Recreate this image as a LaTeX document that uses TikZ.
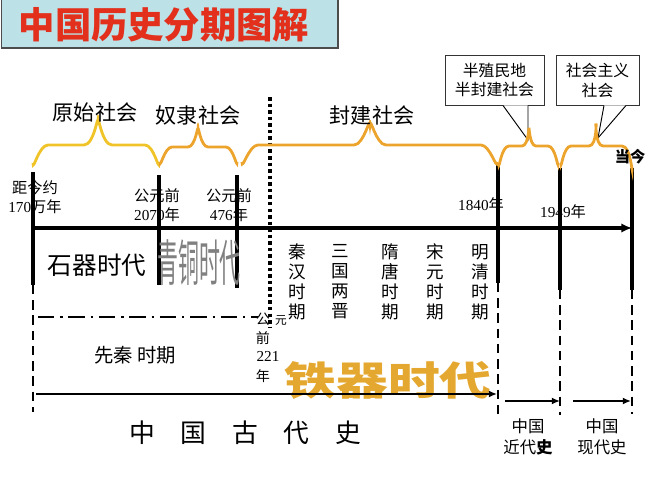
\documentclass[tikz,border=0pt]{standalone}
\usepackage{fontspec}
\setmainfont{Noto Sans CJK SC}
\newfontfamily\lat{Liberation Serif}
\usepackage{xcolor}
\usetikzlibrary{arrows.meta, positioning, calc}
\definecolor{titleblue}{RGB}{188,226,232}
\definecolor{titlered}{RGB}{226,48,28}
\definecolor{braceyellow}{RGB}{240,196,40}
\definecolor{braceorange}{RGB}{236,164,44}
\definecolor{irongold}{RGB}{228,168,48}

\begin{document}
\begin{tikzpicture}[
    x=0.03cm, y=-0.03cm,
    axis/.style={line width=3.2pt, -{Latex[length=9pt,width=8pt]}},
    tick/.style={line width=3pt},
    tickdash/.style={line width=2.4pt, dash pattern=on 8pt off 5pt},
    bracey/.style={draw=braceyellow, line width=2.4pt},
    braceo/.style={draw=braceorange, line width=2.4pt},
    society/.style={font=\fontsize{18}{20}\selectfont, inner sep=0pt},
    datelbl/.style={font=\fontsize{13}{16}\selectfont, align=center, inner sep=0pt},
    dynasty/.style={font=\fontsize{15}{17}\selectfont, align=center, inner sep=0pt},
    callout/.style={draw=black!80, fill=white, line width=0.8pt, align=center, font=\fontsize{13.5}{17}\selectfont, inner sep=0pt},
    span/.style={line width=2pt, -{Latex[length=7pt,width=6pt]}},
    histlbl/.style={font=\fontsize{14}{18}\selectfont, align=center, inner sep=0pt}
]
\useasboundingbox (0,0) rectangle (667,500);

% title
\node[draw=black!70, line width=1.5pt, fill=titleblue, minimum width=10.1cm, minimum height=1.55cm, anchor=south east] (titlebox) at (339,49) {};
\node[text=titlered, font=\bfseries\fontsize{31}{34}\selectfont, inner sep=0pt] (title) at (164,25) {中国历史分期图解};

% time points
\coordinate (t0) at (33,228);
\coordinate (t1) at (159,228);
\coordinate (t2) at (237,228);
\coordinate (t3) at (498,228);
\coordinate (t4) at (560,228);
\coordinate (t5) at (632,228);

\draw[axis] (t0) -- (t5);
\draw[tick] ($(t0)+(0,-56)$) -- ($(t0)+(0,57)$);
\draw[tick] ($(t1)+(0,-53)$) -- ($(t1)+(0,57)$);
\draw[tick] ($(t2)+(0,-53)$) -- ($(t2)+(0,60)$);
\draw[tick] ($(t3)+(0,-65)$) -- ($(t3)+(0,55)$);
\draw[tick] ($(t4)+(0,-60)$) -- ($(t4)+(0,62)$);
\draw[tick] ($(t5)+(0,-60)$) -- ($(t5)+(0,62)$);
\draw[tickdash] ($(t0)+(0,57)$) -- ($(t0)+(0,184)$);
\draw[tickdash] ($(t3)+(0,55)$) -- ($(t3)+(0,186)$);
\draw[tickdash] ($(t4)+(0,62)$) -- ($(t4)+(0,187)$);
\draw[tickdash] ($(t5)+(0,62)$) -- ($(t5)+(0,186)$);
\coordinate (q0) at (270,97);
\coordinate (q1) at (270,327);
\draw[line width=3pt, dash pattern=on 3pt off 2.6pt] (q0) -- (q1);

% callouts
\node[callout, minimum width=2.97cm, minimum height=1.5cm] (semi) at (494.5,80) {半殖民地\\半封建社会};
\node[callout, minimum width=2.49cm, minimum height=1.5cm] (socialist) at (597.5,80) {社会主义\\社会};
\coordinate (semitip) at (528,140);
\coordinate (socialtip) at (598,138);
\draw[line width=0.8pt, fill=white] ([xshift=0.255cm]semi.south) -- (semitip) -- ([xshift=1.005cm]semi.south);
\draw[line width=0.8pt, fill=white] ([xshift=0.195cm]socialist.south) -- (socialtip) -- ([xshift=0.855cm]socialist.south);

% braces
\draw[bracey] (33,163) to[out=-90,in=180] (48,145) -- (84,145) to[out=0,in=90] (98,122) to[out=90,in=180] (112,145) -- (145,145) to[out=0,in=-90] (159,163);
\draw[braceo] (160,162) to[out=-90,in=180] (172,147) -- (188,147) to[out=0,in=90] (198,130) to[out=90,in=180] (208,147) -- (226,147) to[out=0,in=-90] (237,162);
\draw[braceo] (242,162) to[out=-90,in=180] (258,145) -- (354,145) to[out=0,in=90] (370,125) to[out=90,in=180] (386,145) -- (481,145) to[out=0,in=-90] (497,162);
\draw[braceo] (499,163) to[out=-90,in=180] (509,146) -- (522,146) to[out=0,in=90] (529,129) to[out=90,in=180] (536,146) -- (548,146) to[out=0,in=-90] (558,163);
\draw[braceo] (561,163) to[out=-90,in=180] (571,146) -- (589,146) to[out=0,in=90] (596,125) to[out=90,in=180] (603,146) -- (622,146) to[out=0,in=-90] (632,167);

% societies
\node[society] (primitive) at (95,112) {原始社会};
\node[society] (slave) at (198,115) {奴隶社会};
\node[society] (feudal) at (372,115) {封建社会};

% dates
\node[datelbl] (d0) at (35,197) {距今约\\{\lat 170}万年};
\node[datelbl] (d1) at (157,205) {公元前\\{\lat 2070}年};
\node[datelbl] (d2) at (229,205) {公元前\\{\lat 476}年};
\node[datelbl] (d3) at (481,205) {{\lat 1840}年};
\node[datelbl] (d4) at (563,212) {{\lat 1949}年};
\node[datelbl, font=\bfseries\fontsize{13}{16}\selectfont] (now) at (630,157) {当今};

% ages and periods
\node[font=\fontsize{21}{24}\selectfont, inner sep=0pt] (stone) at (97,265) {石器时代};
\node[font=\fontsize{17}{20}\selectfont, text=black!50, inner sep=0pt, xscale=1.05, yscale=2.5] (bronze) at (199,263) {青铜时代};
\node[dynasty] (qinhan) at (297,282) {秦\\汉\\时\\期};
\node[dynasty] (sanguo) at (340,282) {三\\国\\两\\晋};
\node[dynasty] (suitang) at (390,282) {隋\\唐\\时\\期};
\node[dynasty] (songyuan) at (435,282) {宋\\元\\时\\期};
\node[dynasty] (mingqing) at (480,282) {明\\清\\时\\期};

\coordinate (p0) at (38,317);
\coordinate (p1) at (258,317);
\draw[line width=2pt, dash pattern=on 14pt off 5pt on 2pt off 5pt] (p0) -- (p1);
\node[font=\fontsize{16.5}{20}\selectfont, inner sep=0pt] (preqin) at (135,355) {先秦 时期};

\node[datelbl, font=\fontsize{12}{14}\selectfont] (gong) at (263,319) {公};
\node[datelbl, font=\fontsize{10}{12}\selectfont] (yuan) at (281,320) {元};
\node[datelbl, font=\fontsize{12}{14}\selectfont] (qian) at (263,338) {前};
\node[datelbl, font=\lat\fontsize{13}{14}\selectfont] (y221) at (268,356) {221};
\node[datelbl, font=\fontsize{12}{14}\selectfont] (nian) at (263,376) {年};

\node[text=irongold, font=\bfseries\fontsize{34}{36}\selectfont, inner sep=0pt, xscale=1.3] (iron) at (388,381) {铁器时代};

% spans of history
\coordinate (a0) at (36,394);
\coordinate (a1) at (497,394);
\draw[span] (a0) -- (a1);
\node[font=\fontsize{22}{24}\selectfont, inner sep=0pt] (ancient) at (245,433) {中\hspace{1em}国\hspace{1em}古\hspace{1em}代\hspace{1em}史};
\coordinate (m0) at (505,401);
\coordinate (m1) at (560,401);
\coordinate (m2) at (573,401);
\coordinate (m3) at (631,401);
\draw[span] (m0) -- (m1);
\draw[span] (m2) -- (m3);
\node[histlbl] (modern) at (528,437) {中国\\近代{\bfseries 史}};
\node[histlbl] (contemp) at (602,437) {中国\\现代史};

\end{tikzpicture}
\end{document}
